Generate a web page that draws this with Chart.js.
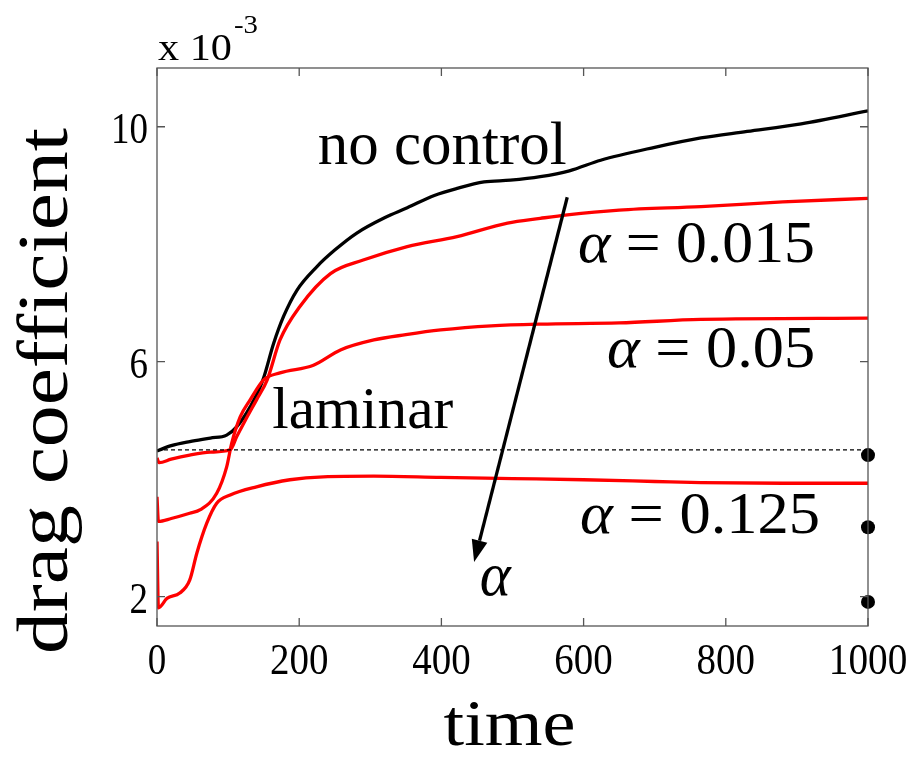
<!DOCTYPE html>
<html>
<head>
<meta charset="utf-8">
<script src="https://cdn.jsdelivr.net/npm/chart.js@4.4.1/dist/chart.umd.min.js"></script>
<style>
  html, body { margin: 0; padding: 0; background: #fff; }
  #wrap { width: 914px; height: 761px; position: relative; }
</style>
</head>
<body>
<div id="wrap"><canvas id="chartDrag"></canvas></div>
<script>
// data (drag coefficient in units of 1e-3)
const timeNoCtrl = [0, 20, 46, 75, 98, 112, 131, 149, 164, 178, 197, 225, 250, 281, 320, 352, 390, 422, 460, 497, 539, 580, 624, 700, 765, 830, 906, 1000];
const dragNoCtrl = [4.48, 4.57, 4.64, 4.70, 4.75, 4.89, 5.23, 5.69, 6.31, 6.77, 7.22, 7.62, 7.90, 8.19, 8.45, 8.62, 8.83, 8.95, 9.06, 9.09, 9.15, 9.25, 9.43, 9.65, 9.81, 9.92, 10.05, 10.27];

const timeA015 = [0, 3, 20, 46, 75, 103, 112, 125, 140, 155, 173, 201, 244, 290, 352, 422, 493, 539, 577, 650, 765, 880, 1000];
const dragA015 = [4.36, 4.28, 4.34, 4.41, 4.46, 4.50, 4.72, 5.02, 5.35, 5.69, 6.37, 6.94, 7.50, 7.73, 7.96, 8.13, 8.36, 8.44, 8.50, 8.58, 8.64, 8.72, 8.78];

const timeA05 = [0, 2, 20, 46, 61, 84, 98, 105, 117, 131, 150, 173, 220, 258, 305, 350, 399, 470, 539, 650, 765, 1000];
const dragA05 = [3.70, 3.28, 3.33, 3.42, 3.48, 3.76, 4.21, 4.61, 5.06, 5.35, 5.69, 5.81, 5.94, 6.20, 6.37, 6.46, 6.54, 6.61, 6.64, 6.66, 6.72, 6.74];

const timeA125 = [0, 2, 14, 32, 46, 56, 70, 84, 103, 140, 187, 234, 305, 399, 500, 600, 700, 765, 880, 1000];
const dragA125 = [2.94, 1.81, 1.97, 2.06, 2.28, 2.74, 3.25, 3.59, 3.73, 3.87, 3.99, 4.04, 4.05, 4.03, 4.01, 3.99, 3.96, 3.94, 3.93, 3.93];

const timeLaminar = [0, 1000];
const dragLaminar = [4.50, 4.50];

const timeDots = [1000, 1000, 1000];
const dragDots = [4.41, 3.18, 1.91];

const xTicks = [0, 200, 400, 600, 800, 1000];
const yTicks = [2, 6, 10];

const SERIF = '"Liberation Serif", serif';
const axisCol = '#555';

const pts = (xs, ys) => xs.map((x, i) => ({ x: x, y: ys[i] }));

function curve(xs, ys, color) {
    return {
        data: pts(xs, ys),
        borderColor: color,
        borderWidth: 3.3,
        pointRadius: 0,
        cubicInterpolationMode: 'monotone',
        fill: false,
    };
}

// text labels placed in data coordinates (left edge, baseline)
const notes = [
    { segs: [['no control', false]], t: 226, v: 9.37, size: 62, w: 249 },
    { segs: [['α', true], [' = 0.015', false]], t: 592, v: 7.70, size: 60, w: 237 },
    { segs: [['α', true], [' = 0.05', false]], t: 633, v: 5.91, size: 60, w: 208 },
    { segs: [['laminar', false]], t: 162, v: 4.87, size: 60, w: 181 },
    { segs: [['α', true], [' = 0.125', false]], t: 595, v: 3.09, size: 60, w: 240 },
    { segs: [['α', true]], t: 454, v: 2.03, size: 62, w: 31 },
];
const arrowFrom = { t: 577, v: 8.80 };
const arrowTo = { t: 446, v: 2.59 };

// draw text segments squeezed/stretched to a given width
function fitText(ctx, segs, x, y, size, w, align) {
    let total = 0;
    segs.forEach(s => {
        ctx.font = (s[1] ? 'italic ' : '') + size + 'px ' + SERIF;
        total += ctx.measureText(s[0]).width;
    });
    const sx = w / total;
    let left = x;
    if (align === 'center') left = x - w / 2;
    if (align === 'right') left = x - w;
    ctx.save();
    ctx.translate(left, y);
    ctx.scale(sx, 1);
    ctx.textBaseline = 'alphabetic';
    ctx.textAlign = 'left';
    ctx.fillStyle = '#000';
    let cx = 0;
    segs.forEach(s => {
        ctx.font = (s[1] ? 'italic ' : '') + size + 'px ' + SERIF;
        ctx.fillText(s[0], cx, 0);
        cx += ctx.measureText(s[0]).width;
    });
    ctx.restore();
}

const axesPlugin = {
    id: 'matlabAxes',
    afterDatasetsDraw(chart) {
        const ctx = chart.ctx;
        const a = chart.chartArea;
        const xs = chart.scales.x, ys = chart.scales.y;

        // arrow
        const x1 = xs.getPixelForValue(arrowFrom.t), y1 = ys.getPixelForValue(arrowFrom.v);
        const x2 = xs.getPixelForValue(arrowTo.t), y2 = ys.getPixelForValue(arrowTo.v);
        const ang = Math.atan2(y2 - y1, x2 - x1);
        const hl = 22, hw = 8;
        const bx = x2 - hl * Math.cos(ang), by = y2 - hl * Math.sin(ang);
        ctx.save();
        ctx.strokeStyle = '#000';
        ctx.lineWidth = 3.3;
        ctx.beginPath();
        ctx.moveTo(x1, y1);
        ctx.lineTo(bx, by);
        ctx.stroke();
        ctx.fillStyle = '#000';
        ctx.beginPath();
        ctx.moveTo(x2, y2);
        ctx.lineTo(bx + hw * Math.sin(ang), by - hw * Math.cos(ang));
        ctx.lineTo(bx - hw * Math.sin(ang), by + hw * Math.cos(ang));
        ctx.closePath();
        ctx.fill();
        ctx.restore();

        // box + inward ticks
        ctx.save();
        ctx.strokeStyle = axisCol;
        ctx.lineWidth = 1.3;
        ctx.strokeRect(a.left, a.top, a.right - a.left, a.bottom - a.top);
        ctx.beginPath();
        xTicks.forEach(t => {
            const px = xs.getPixelForValue(t);
            ctx.moveTo(px, a.bottom); ctx.lineTo(px, a.bottom - 8);
            ctx.moveTo(px, a.top); ctx.lineTo(px, a.top + 8);
        });
        yTicks.forEach(v => {
            const py = ys.getPixelForValue(v);
            ctx.moveTo(a.left, py); ctx.lineTo(a.left + 8, py);
            ctx.moveTo(a.right, py); ctx.lineTo(a.right - 8, py);
        });
        ctx.stroke();
        ctx.restore();

        // tick labels
        xTicks.forEach(t => {
            const s = String(t);
            fitText(ctx, [[s, false]], xs.getPixelForValue(t), a.bottom + 48, 45, 18.5 * s.length + (s.length - 1) * 1.5, 'center');
        });
        yTicks.forEach(v => {
            const s = String(v);
            fitText(ctx, [[s, false]], a.left - 9, ys.getPixelForValue(v) + 16, 45, 18.5 * s.length, 'right');
        });

        // annotations
        notes.forEach(n => {
            fitText(ctx, n.segs, xs.getPixelForValue(n.t), ys.getPixelForValue(n.v), n.size, n.w, 'left');
        });

        // axis titles
        fitText(ctx, [['time', false]], (a.left + a.right) / 2 - 3, a.bottom + 119, 66, 132, 'center');
        ctx.save();
        ctx.translate(a.left - 90, (a.top + a.bottom) / 2 + 44);
        ctx.rotate(-Math.PI / 2);
        fitText(ctx, [['drag coefficient', false]], 0, 0, 72, 526, 'center');
        ctx.restore();

        // exponent
        fitText(ctx, [['x 10', false]], a.left + 1, a.top - 8, 38, 74, 'left');
        fitText(ctx, [['-3', false]], a.left + 77, a.top - 35, 26, 24, 'left');
    }
};

new Chart(document.getElementById('chartDrag'), {
    type: 'line',
    data: {
        datasets: [
            Object.assign(curve(timeLaminar, dragLaminar, '#000'), { borderWidth: 1.3, borderDash: [4, 3] }),
            curve(timeA125, dragA125, '#ff0000'),
            curve(timeA05, dragA05, '#ff0000'),
            curve(timeA015, dragA015, '#ff0000'),
            curve(timeNoCtrl, dragNoCtrl, '#000'),
            {
                type: 'scatter',
                data: pts(timeDots, dragDots),
                pointRadius: 7,
                pointBackgroundColor: '#000',
                pointBorderColor: '#000',
                pointBorderWidth: 0,
                clip: false,
            }
        ]
    },
    options: {
        responsive: true,
        maintainAspectRatio: false,
        animation: false,
        layout: { padding: { left: 157, right: 46, top: 68, bottom: 135 } },
        plugins: {
            legend: { display: false },
            tooltip: { enabled: false }
        },
        scales: {
            x: {
                type: 'linear', min: 0, max: 1000, display: false,
                afterBuildTicks: s => { s.ticks = xTicks.map(v => ({ value: v })); }
            },
            y: {
                type: 'linear', min: 1.5, max: 11, display: false,
                afterBuildTicks: s => { s.ticks = yTicks.map(v => ({ value: v })); }
            }
        }
    },
    plugins: [axesPlugin]
});
</script>
</body>
</html>
